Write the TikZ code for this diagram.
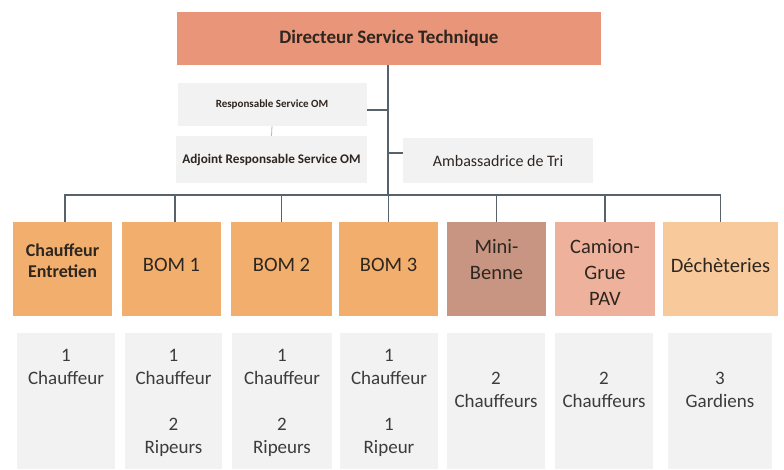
\documentclass[tikz,border=0pt]{standalone}
\usepackage{fontspec}
\setmainfont{Carlito}
\definecolor{dirfill}{HTML}{E8957A}
\definecolor{grayfill}{HTML}{F2F2F2}
\definecolor{orfill}{HTML}{F2AE6C}
\definecolor{minifill}{HTML}{C79581}
\definecolor{camfill}{HTML}{EEB29C}
\definecolor{decfill}{HTML}{F8CA9B}
\definecolor{linec}{HTML}{56626C}
\definecolor{txtdark}{HTML}{2E2620}
\definecolor{txtgray}{HTML}{3C3C3C}
\begin{document}
\begin{tikzpicture}[x=1pt,y=-1pt,
  box/.style={rectangle, inner sep=0pt, align=center, draw=none},
  dirbox/.style={box, fill=dirfill, minimum width=424pt, minimum height=53pt, font=\bfseries\fontsize{19}{22}\selectfont, text=txtdark},
  smallbox/.style={box, fill=grayfill, text=txtdark},
  topbox/.style={box, minimum height=94pt},
  toptxt/.style={align=center, inner sep=0pt, text=txtdark, font=\fontsize{20.5}{26}\selectfont},
  graybox/.style={box, fill=grayfill, minimum height=136pt},
  graytxt/.style={align=center, inner sep=0pt, anchor=north, text=txtgray, font=\fontsize{19}{23}\selectfont},
  conn/.style={draw=linec, line width=1.2pt},
  thin/.style={draw=linec!45, line width=0.8pt}]
\path[fill=white] (0,0) rectangle (784,469);
% top level
\node[dirbox] (dir) at (389,38.5) {Directeur Service Technique};
\node[smallbox, minimum width=189pt, minimum height=43pt, font=\bfseries\fontsize{11}{13}\selectfont] (resp) at (272,104.5) {Responsable Service OM};
\node[smallbox, minimum width=191pt, minimum height=47pt, font=\bfseries\fontsize{13.2}{15}\selectfont] (adj) at (271.5,159.5) {Adjoint Responsable Service OM};
\node[smallbox, minimum width=190pt, minimum height=45pt, font=\fontsize{16}{18}\selectfont] (amb) at (498,160.5) {Ambassadrice de Tri};
\coordinate (tb) at (388,195);
% level 2 boxes
\node[topbox, fill=orfill, minimum width=99pt] (b1) at (62.5,269) {};
\node[topbox, fill=orfill, minimum width=99pt] (b2) at (171.5,269) {};
\node[topbox, fill=orfill, minimum width=101pt] (b3) at (281.5,269) {};
\node[topbox, fill=orfill, minimum width=99pt] (b4) at (388.5,269) {};
\node[topbox, fill=minifill, minimum width=99pt] (b5) at (496.5,269) {};
\node[topbox, fill=camfill, minimum width=100pt] (b6) at (605,269) {};
\node[topbox, fill=decfill, minimum width=115pt] (b7) at (720.5,269) {};
% level 2 texts
\node[toptxt, font=\bfseries\fontsize{18}{21}\selectfont] (l1) at (62.5,261) {Chauffeur\\Entretien};
\node[toptxt] (l2) at (171.5,265) {BOM 1};
\node[toptxt] (l3) at (281.5,265) {BOM 2};
\node[toptxt] (l4) at (388.5,265) {BOM 3};
\node[toptxt] (l5) at (496.5,260) {Mini-\\Benne};
\node[toptxt] (l6) at (605,272) {Camion-\\Grue\\PAV};
\node[toptxt] (l7) at (720.5,265) {Déchèteries};
% connectors
\draw[conn] (dir.south -| tb) -- (tb);
\draw[conn] ([yshift=-5.5pt]resp.east) -- ([yshift=-5.5pt]resp.east -| tb);
\draw[conn] ([yshift=7.5pt]amb.west) -- ([yshift=7.5pt]amb.west -| tb);
\draw[thin] (resp.south) -- (adj.north);
\draw[conn] ([xshift=2.5pt]b1.north) -- ([xshift=2.5pt]b1.north |- tb) -- (b7.north |- tb) -- (b7.north);
\draw[conn] ([xshift=3.5pt]b2.north |- tb) -- ([xshift=3.5pt]b2.north);
\draw[conn] (b3.north |- tb) -- (b3.north);
\draw[conn] (b4.north |- tb) -- (b4.north);
\draw[conn] (b5.north |- tb) -- (b5.north);
\draw[conn] (b6.north |- tb) -- (b6.north);
% level 3
\node[graybox, minimum width=98pt] (g1) at (66,401) {};
\node[graybox, minimum width=97pt] (g2) at (173.5,401) {};
\node[graybox, minimum width=100pt] (g3) at (282,401) {};
\node[graybox, minimum width=98pt] (g4) at (389,401) {};
\node[graybox, minimum width=98pt] (g5) at (496,401) {};
\node[graybox, minimum width=98pt] (g6) at (604,401) {};
\node[graybox, minimum width=104pt] (g7) at (720,401) {};
\node[graytxt] (t1) at ([yshift=-16pt]g1.north) {1\\Chauffeur};
\node[graytxt] (t2) at ([yshift=-16pt]g2.north) {1\\Chauffeur\\[23pt]2\\Ripeurs};
\node[graytxt] (t3) at ([yshift=-16pt]g3.north) {1\\Chauffeur\\[23pt]2\\Ripeurs};
\node[graytxt] (t4) at ([yshift=-16pt]g4.north) {1\\Chauffeur\\[23pt]1\\Ripeur};
\node[graytxt] (t5) at ([yshift=-39pt]g5.north) {2\\Chauffeurs};
\node[graytxt] (t6) at ([yshift=-39pt]g6.north) {2\\Chauffeurs};
\node[graytxt] (t7) at ([yshift=-39pt]g7.north) {3\\Gardiens};
\end{tikzpicture}
\end{document}
